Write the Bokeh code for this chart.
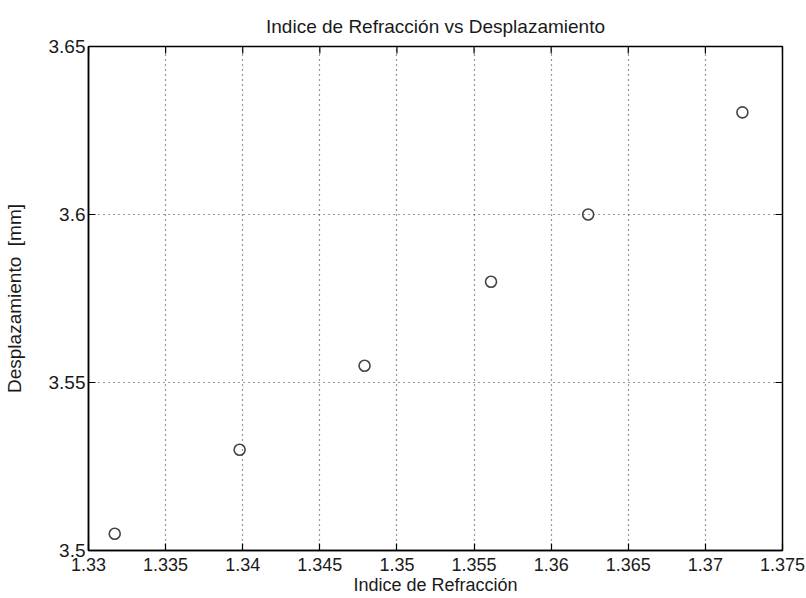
import math
from bokeh.plotting import figure
from bokeh.models import FixedTicker, Range1d
from bokeh.embed import file_html
from bokeh.resources import INLINE

# Data
indice = [1.3317, 1.3398, 1.3479, 1.3561, 1.3624, 1.3724]
desplazamiento = [3.505, 3.530, 3.555, 3.580, 3.600, 3.6304]

x_ticks = [1.33, 1.335, 1.34, 1.345, 1.35, 1.355, 1.36, 1.365, 1.37, 1.375]
x_tick_labels = ["1.33", "1.335", "1.34", "1.345", "1.35", "1.355", "1.36", "1.365", "1.37", "1.375"]
y_ticks = [3.5, 3.55, 3.6, 3.65]
y_tick_labels = ["3.5", "3.55", "3.6", "3.65"]

title_text = "Indice de Refracción vs Desplazamiento"
x_label = "Indice de Refracción"
y_label = "Desplazamiento\u00a0 [mm]"

FONT = "Liberation Sans"
TXT = "#1a1a1a"

p = figure(width=806, height=598, output_backend="svg", toolbar_location=None,
           x_range=Range1d(x_ticks[0], x_ticks[-1]), y_range=Range1d(y_ticks[0], y_ticks[-1]),
           min_border_left=85, min_border_right=24, min_border_top=46, min_border_bottom=48,
           x_axis_label=x_label, y_axis_label=y_label)

p.title.text = title_text
p.title.align = "center"
p.title.text_font = FONT
p.title.text_font_size = "19px"
p.title.text_font_style = "normal"
p.title.text_color = TXT
p.title.standoff = 19

p.background_fill_color = "white"
p.border_fill_color = "white"
p.outline_line_color = "black"
p.outline_line_width = 1.5

xt = FixedTicker(ticks=x_ticks)
yt = FixedTicker(ticks=y_ticks)

p.xaxis.ticker = xt
p.xaxis.major_label_overrides = dict(zip(x_ticks, x_tick_labels))
p.yaxis.ticker = yt
p.yaxis.major_label_overrides = dict(zip(y_ticks, y_tick_labels))

for ax in list(p.xaxis) + list(p.yaxis):
    ax.major_tick_in = 7
    ax.major_tick_out = 0
    ax.minor_tick_line_color = None
    ax.axis_line_color = "black"
    ax.axis_line_width = 1.5
    ax.major_tick_line_color = "black"
    ax.major_tick_line_width = 1.2
    ax.major_label_text_font = FONT
    ax.major_label_text_color = TXT
    ax.axis_label_text_font = FONT
    ax.axis_label_text_font_style = "normal"
    ax.axis_label_text_color = TXT
    ax.major_label_text_line_height = 1.0
    ax.axis_label_text_line_height = 1.0

p.xaxis.major_label_text_font_size = "18px"
p.xaxis.major_label_standoff = 7
p.xaxis.axis_label_text_font_size = "18px"
p.xaxis.axis_label_standoff = 1
p.yaxis.major_label_text_font_size = "19px"
p.yaxis.major_label_standoff = 3
p.yaxis.axis_label_text_font_size = "19px"
p.yaxis.axis_label_standoff = 21

for g in (p.xgrid, p.ygrid):
    g.grid_line_color = "#333333"
    g.grid_line_dash = "1 4"
    g.grid_line_width = 1.2
p.xgrid.ticker = xt
p.ygrid.ticker = yt

# Inward ticks on the top and right edges of the box (clipped to the frame)
p.scatter(x_ticks, [y_ticks[-1]] * len(x_ticks), marker="dash", angle=math.pi / 2,
          size=14, line_color="black", line_width=1.2)
p.scatter([x_ticks[-1]] * len(y_ticks), y_ticks, marker="dash",
          size=14, line_color="black", line_width=1.2)

p.scatter(indice, desplazamiento, marker="circle", size=11, fill_color=None,
          line_color="#444444", line_width=1.6)

open("out.html", "w").write(file_html(p, INLINE))
